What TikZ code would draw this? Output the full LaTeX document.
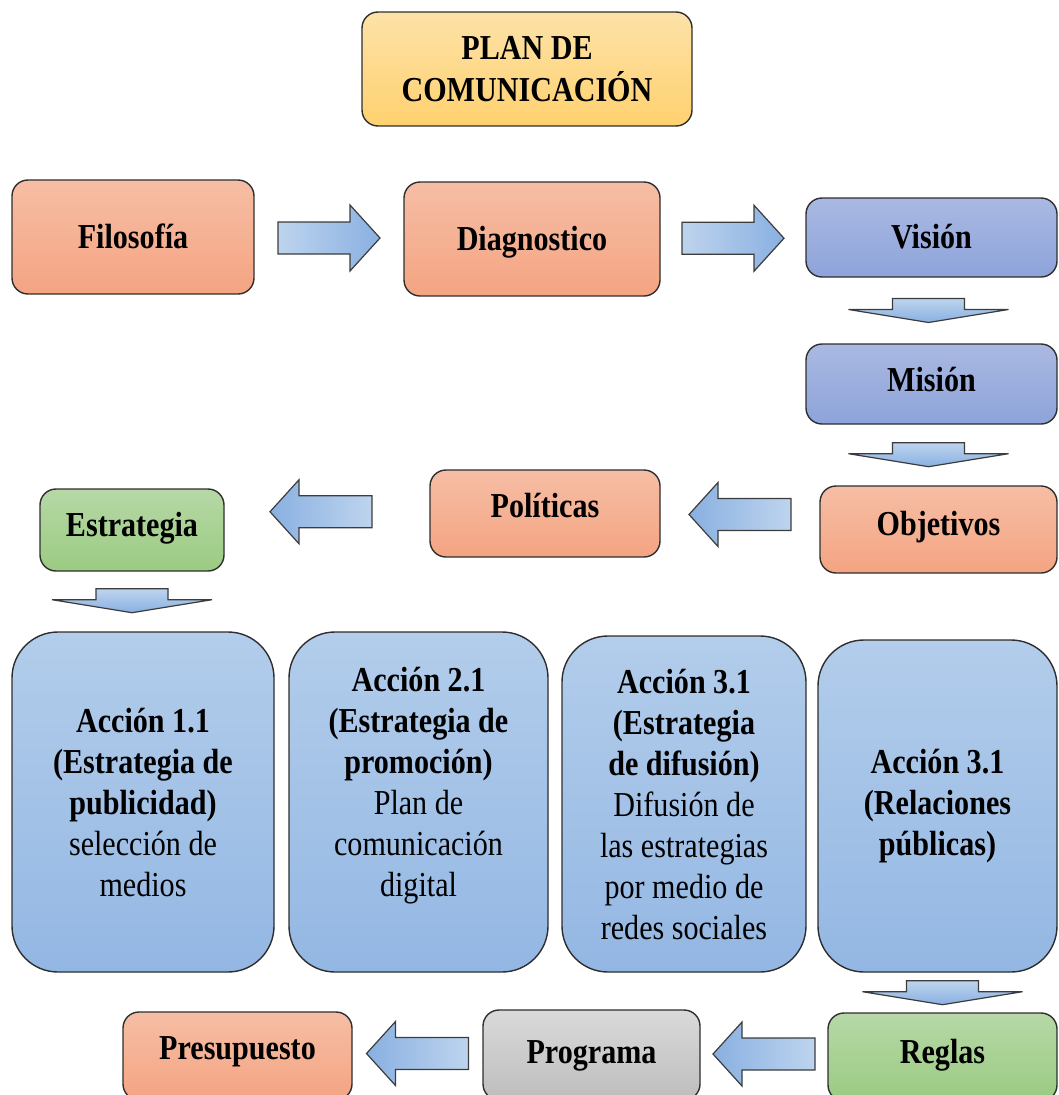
\documentclass[tikz,border=0pt]{standalone}
\usepackage{fontspec}
\setmainfont{Liberation Serif}[FakeStretch=0.86]
\usetikzlibrary{calc}

% fills (top / bottom of each vertical gradient)
\definecolor{edge}{HTML}{2E2E2E}
\definecolor{salmonT}{HTML}{F6BEA5}
\definecolor{salmonB}{HTML}{F4A482}
\definecolor{goldT}{HTML}{FDE2A8}
\definecolor{goldB}{HTML}{FFD16F}
\definecolor{lilacT}{HTML}{AAB9E2}
\definecolor{lilacB}{HTML}{8DA3DA}
\definecolor{skyT}{HTML}{B3CDEB}
\definecolor{skyB}{HTML}{93B7E3}
\definecolor{leafT}{HTML}{B6D8A6}
\definecolor{leafB}{HTML}{9BCB82}
\definecolor{greyT}{HTML}{DADADA}
\definecolor{greyB}{HTML}{BDBDBD}
\definecolor{arrL}{HTML}{BED4EE}
\definecolor{arrD}{HTML}{89B0E1}
\definecolor{arrEdge}{HTML}{3C3C3C}

\tikzset{
  box/.style={draw=edge, line width=1.4pt, rounded corners=16pt, align=center,
    inner sep=0pt, font=\fontsize{35}{42}\selectfont\bfseries},
  % raises a one-line label inside its box
  lift/.style={text height=25pt, text depth=#1},
  salmonbox/.style={box, top color=salmonT, bottom color=salmonB},
  goldbox/.style={box, top color=goldT, bottom color=goldB},
  lilacbox/.style={box, top color=lilacT, bottom color=lilacB},
  leafbox/.style={box, top color=leafT, bottom color=leafB},
  greybox/.style={box, top color=greyT, bottom color=greyB},
  actionbox/.style={box, rounded corners=46pt, top color=skyT, bottom color=skyB,
    font=\fontsize{35}{41}\selectfont\bfseries},
  arrowline/.style={draw=arrEdge, line width=1.2pt, line join=miter},
  % block arrows
  rarrow/.pic={\path[arrowline, left color=arrL, right color=arrD]
    (-51,-16) -- (21,-16) -- (21,-33) -- (51,0) -- (21,33) -- (21,16) -- (-51,16) -- cycle;},
  larrow/.pic={\path[arrowline, left color=arrD, right color=arrL]
    (51,-16) -- (-22,-16) -- (-22,-32) -- (-51,0) -- (-22,32) -- (-22,16) -- (51,16) -- cycle;},
  darrow/.pic={\path[arrowline, top color=arrL, bottom color=arrD]
    (-36,-12) -- (36,-12) -- (36,-1) -- (80,-1) -- (0,12) -- (-80,-1) -- (-36,-1) -- cycle;},
}

\begin{document}
\begin{tikzpicture}[x=1pt, y=-1pt]
\useasboundingbox (0,0) rectangle (1059,1095);
\clip (0,0) rectangle (1059,1095);

% title
\node[goldbox, minimum width=330pt, minimum height=114pt] (title) at (527,69)
  {PLAN DE\\COMUNICACIÓN};

% first row
\node[salmonbox, lift=2pt, minimum width=242pt, minimum height=114pt] (filo) at (133,237) {Filosofía};
\node[salmonbox, lift=2pt, minimum width=256pt, minimum height=114pt] (diag) at (532,239) {Diagnostico};
\node[lilacbox, lift=4pt, minimum width=251pt, minimum height=79pt] (vision) at (931.5,237.5) {Visión};

% right column
\node[lilacbox, lift=10pt, minimum width=251pt, minimum height=80pt] (mision) at (931.5,384) {Misión};
\node[salmonbox, lift=14pt, minimum width=237pt, minimum height=87pt] (objet) at (938.5,529.5) {Objetivos};

% third row
\node[salmonbox, lift=18pt, minimum width=230pt, minimum height=87pt] (polit) at (545,513.5) {Políticas};
\node[leafbox, lift=12pt, minimum width=184pt, minimum height=82pt] (estr) at (132,530) {Estrategia};

% actions
\node[actionbox, minimum width=262pt, minimum height=340pt] (a1) at (143,802)
  {Acción 1.1\\(Estrategia de\\publicidad)\\\mdseries selección de\\\mdseries medios};
\node[actionbox, minimum width=259pt, minimum height=340pt] (a2) at (418.5,802)
  {Acción 2.1\\(Estrategia de\\promoción)\\\mdseries Plan de\\\mdseries comunicación\\\mdseries digital\\\mbox{}};
\node[actionbox, minimum width=244pt, minimum height=336pt] (a3) at (684,804)
  {Acción 3.1\\(Estrategia\\de difusión)\\\mdseries Difusión de\\\mdseries las estrategias\\\mdseries por medio de\\\mdseries redes sociales};
\node[actionbox, minimum width=239pt, minimum height=332pt] (a4) at (937.5,806)
  {Acción 3.1\\(Relaciones\\públicas)};

% bottom row
\node[leafbox, lift=12pt, minimum width=229pt, minimum height=88pt] (reglas) at (942.5,1057) {Reglas};
\node[greybox, lift=8pt, minimum width=217pt, minimum height=90pt] (prog) at (591.5,1055) {Programa};
\node[salmonbox, lift=18pt, minimum width=229pt, minimum height=88pt] (presup) at (237.5,1056) {Presupuesto};

% block arrows between the boxes
\pic at ($(filo.east)!0.5!(diag.west)$) {rarrow};
\pic at ($(diag.east)!0.5!(vision.west)$) {rarrow};
\pic at ($(vision.south)!0.5!(mision.north)+(-3,0)$) {darrow};
\pic at ($(mision.south)+(-3,30)$) {darrow};
\pic at ($(polit.east)!0.5!(objet.west)+(0,-7)$) {larrow};
\pic at ($(estr.east)!0.5!(polit.west)+(-6,-10)$) {larrow};
\pic at ($(estr.south)+(0,29)$) {darrow};
\pic at ($(a4.south)+(5,20)$) {darrow};
\pic at ($(prog.east)!0.5!(reglas.west)+(0,-2)$) {larrow};
\pic at ($(presup.east)!0.5!(prog.west)+(0,-2)$) {larrow};
\end{tikzpicture}
\end{document}
